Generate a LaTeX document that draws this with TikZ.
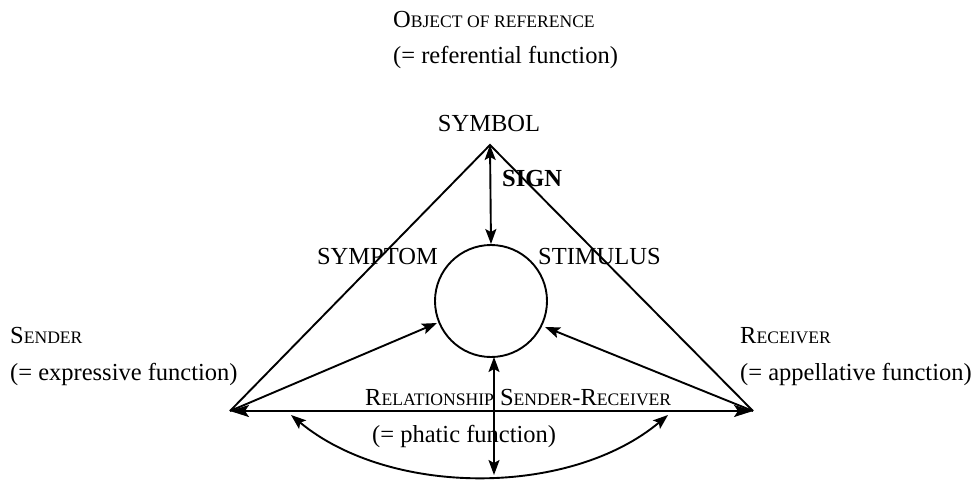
\documentclass[tikz,border=0pt]{standalone}
\usepackage{fontspec}
\setmainfont{Liberation Serif}
\usetikzlibrary{arrows.meta}
\newcommand\smc[1]{{\fontsize{17.6}{20}\selectfont #1}}
\begin{document}
\begin{tikzpicture}[x=1pt,y=-1pt,
  every node/.style={font=\fontsize{24.5}{26}\selectfont, inner sep=0pt},
  lbl/.style={anchor=base west},
  ln/.style={line width=1.9pt},
  tip/.style={line width=1.9pt,{Stealth[length=15pt,width=11pt,inset=3pt]}-{Stealth[length=15pt,width=11pt,inset=3pt]}},
  tipend/.style={line width=1.9pt,-{Stealth[length=15pt,width=11pt,inset=3pt]}}]
\useasboundingbox (0,0) rectangle (977,480);
% vertices
\coordinate (apex) at (490,145);
\coordinate (L) at (230,411);
\coordinate (R) at (753,411);
\coordinate (bot) at (494,475);
\coordinate (arcL) at (291,415);
\coordinate (arcR) at (668,415);
\node[circle, draw, line width=1.9pt, minimum size=112pt] (circ) at (491,301) {};
\coordinate (cb) at (494,357);
\coordinate (cl) at (437,323);
\coordinate (cr) at (545,327);
% triangle sides
\draw[ln, line join=miter] (L) -- (apex) -- (R);
\draw[line width=1.9pt,{Stealth[length=19pt,width=12pt,inset=4pt]}-{Stealth[length=19pt,width=12pt,inset=4pt]}] (L) -- (R);
% arrows
\draw[tip] (apex) -- (circ.north);
\draw[tipend] (L) -- (cl);
\draw[tipend] (R) -- (cr);
\draw[tip] (cb) -- (bot);
\draw[tip] (arcL) .. controls (390,497) and (570,497) .. (arcR);
% labels
\node[lbl] (obj) at (393,27) {O\smc{BJECT OF REFERENCE}};
\node[lbl] (objf) at (393,63) {(= referential function)};
\node[anchor=base] (sym) at (489,131) {SYMBOL};
\node[lbl] (sign) at (502,186) {\textbf{SIGN}};
\node[anchor=base east] (sympt) at (438,264) {SYMPTOM};
\node[lbl] (stim) at (538,264) {STIMULUS};
\node[lbl] (snd) at (10,343) {S\smc{ENDER}};
\node[lbl] (sndf) at (10,380) {(= expressive function)};
\node[lbl] (rcv) at (740,343) {R\smc{ECEIVER}};
\node[lbl] (rcvf) at (740,380) {(= appellative function)};
\node[lbl] (rel) at (365,405) {R\smc{ELATIONSHIP} S\smc{ENDER}-R\smc{ECEIVER}};
\node[lbl] (pha) at (372,442) {(= phatic function)};
\end{tikzpicture}
\end{document}
